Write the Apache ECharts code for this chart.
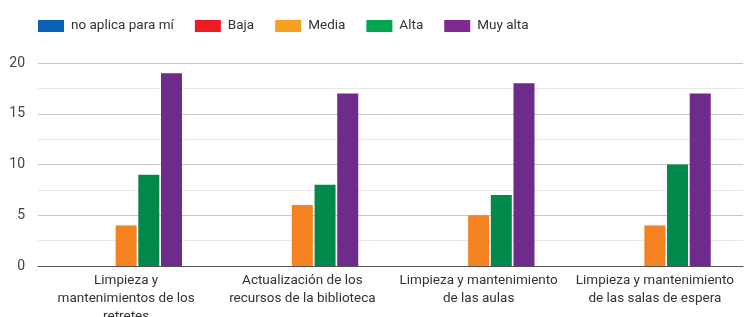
<!DOCTYPE html>
<html>
<head>
<meta charset="utf-8">
<script src="https://cdn.jsdelivr.net/npm/echarts@6/dist/echarts.min.js"></script>
<style>
  html, body { margin: 0; padding: 0; background: #fff; }
  #chart { width: 751px; height: 317px; }
</style>
</head>
<body>
<div id="chart"></div>
<script>
var categories = [
    'Limpieza y\nmantenimientos de los\nretretes',
    'Actualización de los\nrecursos de la biblioteca',
    'Limpieza y mantenimiento\nde las aulas',
    'Limpieza y mantenimiento\nde las salas de espera'
];
var seriesNames = ['no aplica para mí', 'Baja', 'Media', 'Alta', 'Muy alta'];
var noAplica = [0, 0, 0, 0];
var baja     = [0, 0, 0, 0];
var media    = [4, 6, 5, 4];
var alta     = [9, 8, 7, 10];
var muyAlta  = [19, 17, 18, 17];
var yTicks = [0, 5, 10, 15, 20];

var colors = ['#0b62b5', '#ed1c24', '#f58220', '#01884b', '#6d2b8c'];
var legendColors = ['#0b62b5', '#ed1c24', '#f7a01e', '#00a651', '#7f2a8e'];
var values = [noAplica, baja, media, alta, muyAlta];

var chart = echarts.init(document.getElementById('chart'));
var option = {
    animation: false,
    textStyle: { fontFamily: 'Roboto' },
    legend: {
        left: 33,
        top: 14,
        itemWidth: 26,
        itemHeight: 12,
        itemGap: 21,
        icon: 'rect',
        textStyle: { fontSize: 13.5, color: '#333', padding: [0, 0, 0, 2] },
        data: seriesNames.map(function (n, i) {
            return { name: n, itemStyle: { color: legendColors[i] } };
        })
    },
    grid: { left: 38, right: 8, top: 63, bottom: 51, outerBoundsMode: 'none', containLabel: false },
    xAxis: {
        type: 'category',
        data: categories,
        axisTick: { show: false },
        axisLine: { lineStyle: { color: '#555', width: 1 } },
        axisLabel: { fontSize: 13.5, color: '#333', lineHeight: 18, margin: 6, interval: 0 }
    },
    yAxis: {
        type: 'value',
        min: yTicks[0],
        max: yTicks[yTicks.length - 1],
        interval: 5,
        axisLine: { show: false },
        axisTick: { show: false },
        axisLabel: { fontSize: 14, color: '#444', margin: 13 },
        splitLine: { lineStyle: { color: '#c8c8c8' } },
        minorTick: { show: false, splitNumber: 2 },
        minorSplitLine: { show: true, lineStyle: { color: '#e8e8e8' } }
    },
    series: seriesNames.map(function (n, i) {
        return {
            name: n,
            type: 'bar',
            data: values[i],
            barWidth: 21,
            barGap: '8%',
            itemStyle: { color: colors[i] }
        };
    })
};
chart.setOption(option);
</script>
</body>
</html>
